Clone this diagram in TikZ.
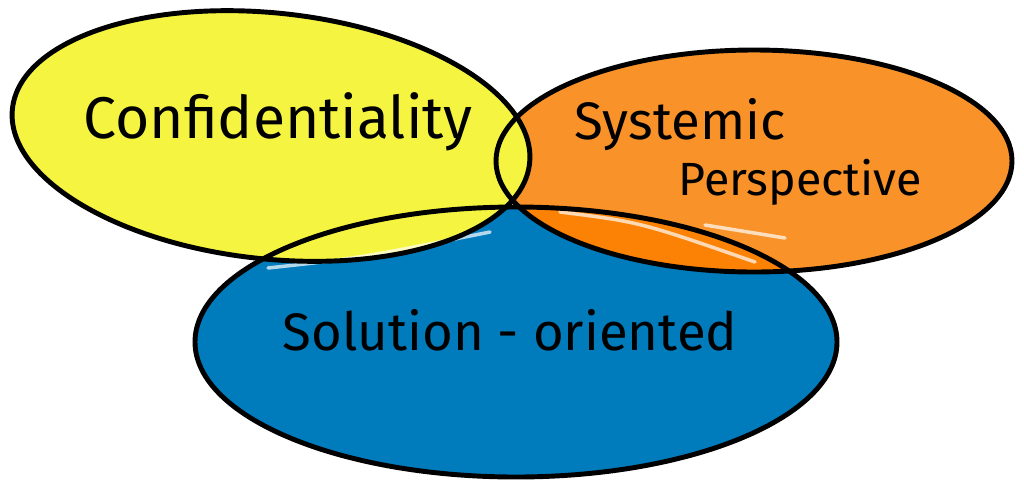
\documentclass[tikz,border=0pt]{standalone}
\usepackage{fontspec}
\setmainfont{Fira Sans}
\definecolor{lemon}{HTML}{F5F441}
\definecolor{tangerine}{HTML}{F99228}
\definecolor{deeporange}{HTML}{FC8205}
\definecolor{seablue}{HTML}{007BBC}
\tikzset{
  outline/.style={line width=2.8pt, black},
  gloss/.style={white, opacity=0.7, line width=2pt, line cap=round},
  label/.style={font=\fontsize{30}{36}\selectfont, inner sep=0pt}
}
\begin{document}
\begin{tikzpicture}[x=0.02cm,y=-0.02cm]
    \useasboundingbox (0,0) rectangle (1024,498);
    % fills: blue lowest, yellow on top
    \fill[seablue] (516,342) ellipse [x radius=321, y radius=135];
    \fill[tangerine] (754,161) ellipse [x radius=258, y radius=111];
    \begin{scope}
        \clip (516,342) ellipse [x radius=321, y radius=135];
        \fill[deeporange] (754,161) ellipse [x radius=258, y radius=111];
    \end{scope}
    \fill[lemon, rotate around={-6:(271,136)}] (271,136) ellipse [x radius=260, y radius=123];
    % glossy strokes
    \draw[gloss] (268,268) .. controls (360,258) .. (490,232);
    \draw[gloss] (560,212) .. controls (640,222) .. (755,262);
    \draw[gloss] (705,225) -- (785,238);
    % outlines
    \draw[outline] (516,342) ellipse [x radius=321, y radius=135];
    \draw[outline] (754,161) ellipse [x radius=258, y radius=111];
    \draw[outline, rotate around={-6:(271,136)}] (271,136) ellipse [x radius=260, y radius=123];
    % texts
    \node[label, font=\fontsize{33.5}{40}\selectfont] (confid) at (278,122) {Confidentiality};
    \node[label] (systemic) at (680,125) {Systemic};
    \node[label, font=\fontsize{26.5}{32}\selectfont] (persp) at (800,182) {Perspective};
    \node[label] (solution) at (510,330) {Solution - oriented};
\end{tikzpicture}
\end{document}
